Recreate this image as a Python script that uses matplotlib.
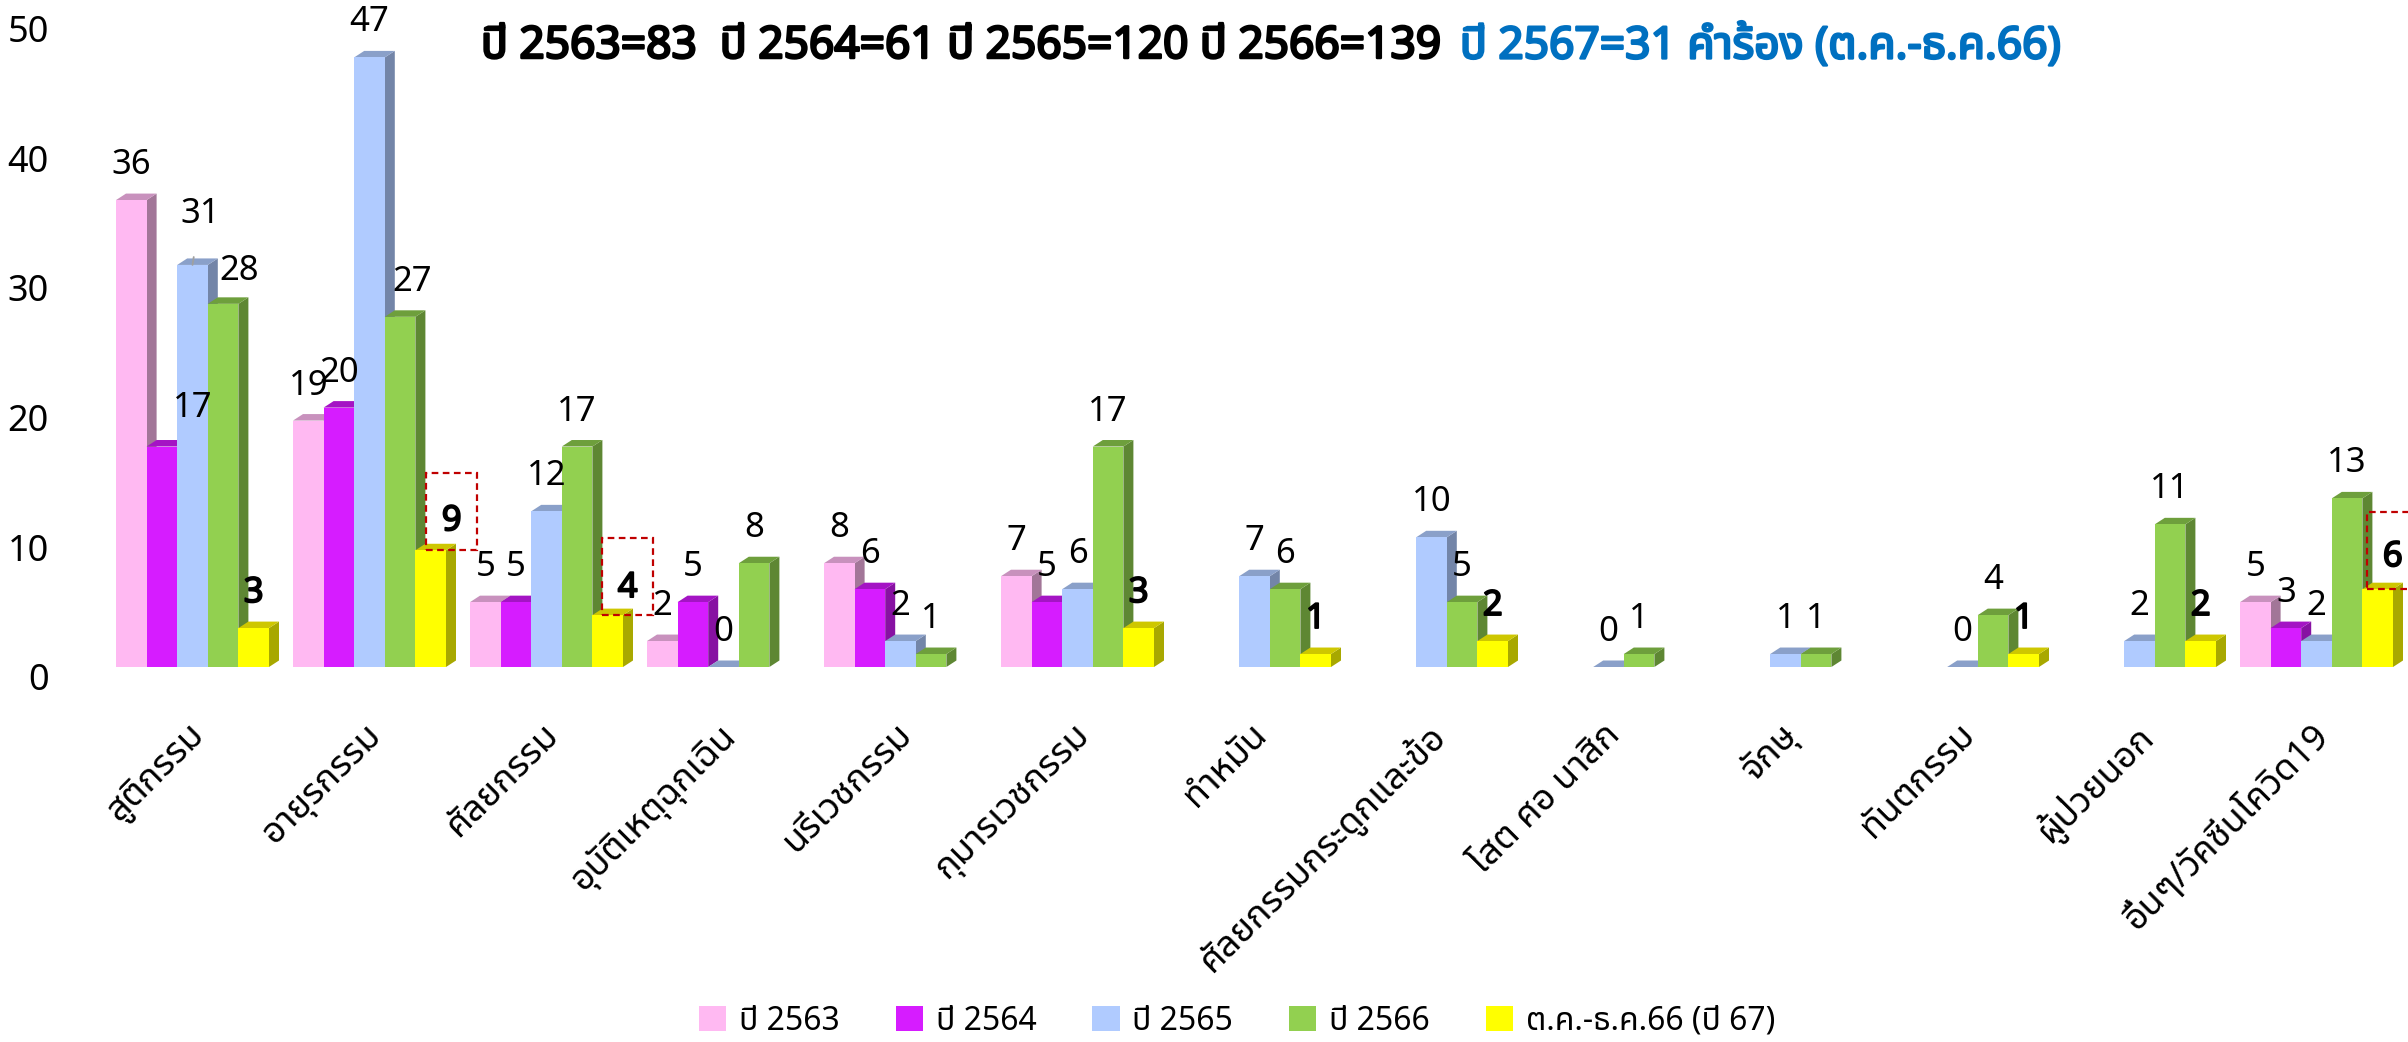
import numpy as np
import matplotlib
matplotlib.use('Agg')
import matplotlib.pyplot as plt
from matplotlib import font_manager
from matplotlib.ft2font import FT2Font
from matplotlib.patches import Polygon, Rectangle
from matplotlib.transforms import ScaledTranslation
import matplotlib.patheffects as pe

# ---------------- data ----------------
categories = ['สูติกรรม', 'อายุรกรรม', 'ศัลยกรรม', 'อุบัติเหตุฉุกเฉิน', 'นรีเวชกรรม',
              'กุมารเวชกรรม', 'ทำหมัน', 'ศัลยกรรมกระดูกและข้อ', 'โสต ศอ นาสิก',
              'จักษุ', 'ทันตกรรม', 'ผู้ป่วยนอก', 'อื่นๆ/วัคซีนโควิด19']
series_names = ['ปี 2563', 'ปี 2564', 'ปี 2565', 'ปี 2566', 'ต.ค.-ธ.ค.66 (ปี 67)']
nan = np.nan
y2563 = [36, 19, 5, 2, 8, 7, nan, nan, nan, nan, nan, nan, 5]
y2564 = [17, 20, 5, 5, 6, 5, nan, nan, nan, nan, nan, nan, 3]
y2565 = [31, 47, 12, 0, 2, 6, 7, 10, 0, 1, 0, 2, 2]
y2566 = [28, 27, 17, 8, 1, 17, 6, 5, 1, 1, 4, 11, 13]
y2567 = [3, 9, 4, nan, nan, 3, 1, 2, nan, nan, 1, 2, 6]
yticks = [0, 10, 20, 30, 40, 50]
title_black = 'ปี 2563=83  ปี 2564=61 ปี 2565=120 ปี 2566=139 '
title_blue = 'ปี 2567=31 คำร้อง (ต.ค.-ธ.ค.66)'

series = [y2563, y2564, y2565, y2566, y2567]

# ---------------- style ----------------
front_c = ['#FFB9F2', '#D61CFF', '#B0CBFF', '#92D050', '#FFFF00']
top_c = ['#C891BD', '#A414C4', '#8AA0C9', '#6E9F3C', '#CEC700']
side_c = ['#A27698', '#8711A2', '#7385A8', '#5E8733', '#A8A800']

# label nudges in pixels (dx, dy) relative to the default position
nudges = {(1, 0): (31, 4), (2, 0): (8, 16), (3, 0): (16, -2), (3, 1): (12, 0),
          (4, 1): (21, -6), (4, 2): (20, -8), (4, 12): (15, -3)}
boxed = {(4, 1), (4, 2), (4, 12)}
leader = {(2, 0)}


def find_thai_font():
    preferred = ['Noto Sans Thai', 'Noto Sans Thai Looped', 'Loma', 'Garuda', 'Sarabun',
                 'Tlwg Typo', 'Waree', 'Norasi', 'Kinnari', 'Umpush', 'Laksaman',
                 'Leelawadee UI', 'Tahoma', 'FreeSans', 'Noto Serif Thai']
    found = {}
    for f in font_manager.fontManager.ttflist:
        try:
            cmap = FT2Font(f.fname).get_charmap()
        except Exception:
            continue
        if 0x0E1B in cmap and 0x0E35 in cmap and 0x0E01 in cmap:
            found.setdefault(f.name, f.fname)
    for p in preferred:
        if p in found:
            return p
    if found:
        return sorted(found)[0]
    return None


thai = find_thai_font()
fams = [thai, 'DejaVu Sans'] if thai else ['DejaVu Sans']
plt.rcParams['font.family'] = fams

W, H = 2408, 1042
DPI = 100
fig = plt.figure(figsize=(W / DPI, H / DPI), dpi=DPI)
base_px = 667
left_px = 60
ax = fig.add_axes([left_px / W, (H - base_px) / H, (W - left_px) / W, base_px / H])
pitch = 177.0
c0 = 192.5
ppu = 12.97
ax.set_xlim((left_px - c0) / pitch, (W - c0) / pitch)
ax.set_ylim(0, base_px / ppu)

w = 30.6 / pitch
dx = 10.0 / pitch
dy = 6.5 / ppu
n = len(categories)
xc = np.arange(n)

fs_lab = 25
fs_tick = 26
fs_cat = 26
fs_leg = 23
bold_fx = [pe.withStroke(linewidth=1.3, foreground='black')]

for k, vals in enumerate(series):
    v = np.array(vals, dtype=float)
    lefts = xc - 2.5 * w + k * w
    ax.bar(lefts, v, width=w, align='edge', color=front_c[k], linewidth=0,
           zorder=2 + k + 0.5, label=series_names[k])
    for i in range(n):
        if np.isnan(v[i]):
            continue
        xl, xr, h = lefts[i], lefts[i] + w, v[i]
        side = Polygon([(xr, 0), (xr + dx, dy), (xr + dx, h + dy), (xr, h)],
                       closed=True, fc=side_c[k], ec='none', zorder=2 + k)
        top = Polygon([(xl, h), (xl + dx, h + dy), (xr + dx, h + dy), (xr, h)],
                      closed=True, fc=top_c[k], ec='none', zorder=2 + k)
        ax.add_patch(side)
        ax.add_patch(top)
        ndx, ndy = nudges.get((k, i), (0, 0))
        ox, oy = ndx, 35 + ndy
        kw = dict(ha='center', va='center', fontsize=fs_lab, color='black', zorder=20,
                  textcoords='offset pixels', annotation_clip=False)
        if k == 4:
            kw['path_effects'] = bold_fx
        if (k, i) in leader:
            kw['arrowprops'] = dict(arrowstyle='-', color='#A0A0A0', lw=1.3,
                                    shrinkA=17, shrinkB=0)
        xm = xl + w / 2
        ax.annotate(f'{int(h)}', xy=(xm, h), xytext=(ox, oy), **kw)
        if (k, i) in boxed:
            trans = fig.dpi_scale_trans + ScaledTranslation(xm, h, ax.transData)
            bw, bh = 51 / DPI, 77 / DPI
            rect = Rectangle((ox / DPI - bw / 2, 0), bw, bh,
                             transform=trans, fc='none', ec='#C00000',
                             ls=(0, (3, 2)), lw=1.6, zorder=21, clip_on=False)
            fig.add_artist(rect)

# axes styling
for s in ax.spines.values():
    s.set_visible(False)
ax.set_yticks(yticks)
ax.set_yticklabels([str(t) for t in yticks], fontsize=fs_tick)
ax.tick_params(axis='y', length=0, pad=8)
for lab in ax.get_yticklabels():
    lab.set_transform(lab.get_transform() + ScaledTranslation(0, -10 / DPI, fig.dpi_scale_trans))
ax.set_xticks(xc)
ax.set_xticklabels(categories, rotation=45, ha='right', va='top',
                   rotation_mode='anchor', fontsize=fs_cat)
ax.tick_params(axis='x', length=0, pad=36)
for lab in ax.get_xticklabels():
    lab.set_transform(lab.get_transform() + ScaledTranslation(-6 / DPI, 0, fig.dpi_scale_trans))

# legend
handles = [Rectangle((0, 0), 1, 1, fc=c, ec='none') for c in front_c]
fig.legend(handles, series_names, loc='center', bbox_to_anchor=(1237 / W, 1 - 1021 / H),
           ncol=5, frameon=False, fontsize=fs_leg, handlelength=0.85, handleheight=0.85,
           handletextpad=0.4, columnspacing=1.75)

# title in two colours, fitted to the reference width
renderer = fig.canvas.get_renderer()
tsize = 27
t_fx = [pe.withStroke(linewidth=1.8, foreground='black')]
t_fx_b = [pe.withStroke(linewidth=1.8, foreground='#0070C0')]
t1 = fig.text(481 / W, 1 - 47 / H, title_black, ha='left', va='center',
              fontsize=tsize, color='black', path_effects=t_fx)
t2 = fig.text(0, 1 - 47 / H, title_blue, ha='left', va='center',
              fontsize=tsize, color='#0070C0', path_effects=t_fx_b)
w1 = t1.get_window_extent(renderer).width
w2 = t2.get_window_extent(renderer).width
scale = 1580.0 / (w1 + w2 + 8)
tsize = tsize * scale
t1.set_fontsize(tsize)
t2.set_fontsize(tsize)
bb1 = t1.get_window_extent(renderer)
t2.set_x((bb1.x1 + 8) / W)

fig.savefig('out.png', dpi=DPI)
